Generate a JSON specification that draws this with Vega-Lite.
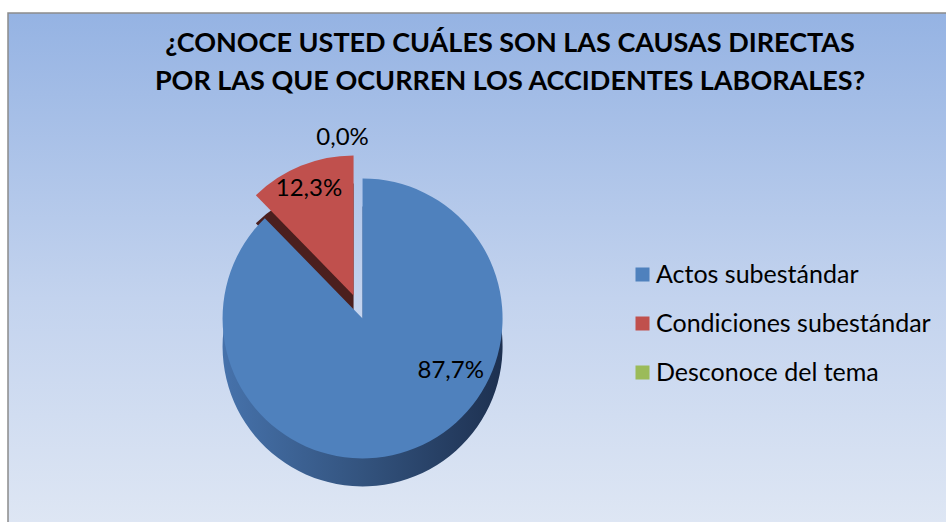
{
  "$schema": "https://vega.github.io/schema/vega-lite/v6.json",
  "autosize": {"type": "none"},
  "width": 938,
  "height": 509,
  "padding": {"left": 8, "top": 13, "right": 0, "bottom": 0},
  "background": "white",
  "title": {
    "text": ["¿CONOCE USTED CUÁLES SON LAS CAUSAS DIRECTAS", "POR LAS QUE OCURREN LOS ACCIDENTES LABORALES?"],
    "font": "Lato",
    "fontSize": 27,
    "fontWeight": "bold",
    "color": "black",
    "anchor": "middle",
    "offset": -84,
    "dx": 33,
    "lineHeight": 38
  },
  "config": {"view": {"stroke": null}},
  "data": {
    "values": [
      {"cat": "Actos subestándar", "value": 87.7, "label": "87,7%"},
      {"cat": "Condiciones subestándar", "value": 12.3, "label": "12,3%"},
      {"cat": "Desconoce del tema", "value": 0, "label": "0,0%"}
    ]
  },
  "transform": [
    {"stack": "value", "groupby": [], "sort": [{"field": "cat", "order": "ascending"}], "as": ["v0", "v1"]}
  ],
  "layer": [
    {
      "data": {"values": [{"bg": 1}]},
      "mark": {"type": "rect", "x": 0, "y": 0, "x2": {"expr": "width+10"}, "y2": {"expr": "height+10"},
        "fill": {"gradient": "linear", "x1": 0, "y1": 0, "x2": 0, "y2": 1,
          "stops": [{"offset": 0, "color": "#95b3e3"}, {"offset": 0.55, "color": "#c3d3ee"}, {"offset": 1, "color": "#dfe7f4"}]},
        "stroke": "#8c8c8c", "strokeWidth": 1.5},
      "encoding": {}
    },
    {
      "transform": [{"filter": "datum.cat === 'Condiciones subestándar'"}],
      "mark": {"type": "arc", "radius": 140, "x": {"expr": "width*0.378"}, "y": {"expr": "height*0.6"}, "xOffset": -9, "yOffset": 5, "fill": "#4b1f1e"},
      "encoding": {
        "theta": {"field": "v0", "type": "quantitative", "scale": {"domain": [0, 100]}},
        "theta2": {"field": "v1"}
      }
    },
    {
      "transform": [{"filter": "datum.cat === 'Condiciones subestándar'"}],
      "mark": {"type": "arc", "radius": 140, "x": {"expr": "width*0.378"}, "y": {"expr": "height*0.6"}, "xOffset": -9, "yOffset": -23},
      "encoding": {
        "theta": {"field": "v0", "type": "quantitative", "scale": {"domain": [0, 100]}},
        "theta2": {"field": "v1"},
        "color": {"field": "cat", "type": "nominal",
          "scale": {"domain": ["Actos subestándar", "Condiciones subestándar", "Desconoce del tema"], "range": ["#4f81bd", "#c0504d", "#9bbb59"]},
          "legend": {"orient": "none", "legendX": 622, "legendY": 249, "title": null, "symbolType": "square", "symbolSize": 196, "symbolStrokeWidth": 0, "symbolOpacity": 1, "labelFont": "Lato", "labelFontSize": 25, "labelColor": "black", "rowPadding": 23, "labelOffset": 1, "labelLimit": 400}
        }
      }
    },
    {
      "transform": [{"filter": "datum.cat === 'Actos subestándar'"}],
      "mark": {"type": "arc", "radius": 140, "x": {"expr": "width*0.378"}, "y": {"expr": "height*0.6"}, "yOffset": 28,
        "fill": {"gradient": "linear", "x1": 0, "y1": 0, "x2": 1, "y2": 0,
          "stops": [{"offset": 0, "color": "#4672ab"}, {"offset": 0.5, "color": "#33537e"}, {"offset": 1, "color": "#1d3050"}]}},
      "encoding": {
        "theta": {"field": "v0", "type": "quantitative", "scale": {"domain": [0, 100]}},
        "theta2": {"field": "v1"}
      }
    },
    {
      "transform": [{"filter": "datum.cat === 'Actos subestándar'"}],
      "mark": {"type": "arc", "radius": 140, "x": {"expr": "width*0.378"}, "y": {"expr": "height*0.6"}},
      "encoding": {
        "theta": {"field": "v0", "type": "quantitative", "scale": {"domain": [0, 100]}},
        "theta2": {"field": "v1"},
        "color": {"field": "cat", "type": "nominal",
          "scale": {"domain": ["Actos subestándar", "Condiciones subestándar", "Desconoce del tema"], "range": ["#4f81bd", "#c0504d", "#9bbb59"]},
          "legend": {"orient": "none", "legendX": 622, "legendY": 249, "title": null, "symbolType": "square", "symbolSize": 196, "symbolStrokeWidth": 0, "symbolOpacity": 1, "labelFont": "Lato", "labelFontSize": 25, "labelColor": "black", "rowPadding": 23, "labelOffset": 1, "labelLimit": 400}
        }
      }
    },
    {
      "mark": {"type": "text", "font": "Lato", "fontSize": 24, "color": "black", "radius": 80, "x": {"expr": "width*0.378"}, "y": {"expr": "height*0.6"}, "xOffset": 58, "yOffset": -22},
      "encoding": {
        "theta": {"field": "value", "type": "quantitative", "stack": true, "scale": {"domain": [0, 100]}},
        "order": {"field": "cat"},
        "text": {"condition": {"test": "datum.cat === 'Actos subestándar'", "field": "label"}, "value": ""}
      }
    },
    {
      "mark": {"type": "text", "font": "Lato", "fontSize": 24, "color": "black", "radius": 105, "x": {"expr": "width*0.378"}, "y": {"expr": "height*0.6"}, "xOffset": -14, "yOffset": -32},
      "encoding": {
        "theta": {"field": "value", "type": "quantitative", "stack": true, "scale": {"domain": [0, 100]}},
        "order": {"field": "cat"},
        "text": {"condition": {"test": "datum.cat === 'Condiciones subestándar'", "field": "label"}, "value": ""}
      }
    },
    {
      "mark": {"type": "text", "font": "Lato", "fontSize": 24, "color": "black", "radius": 180, "x": {"expr": "width*0.378"}, "y": {"expr": "height*0.6"}, "xOffset": -20},
      "encoding": {
        "theta": {"field": "value", "type": "quantitative", "stack": true, "scale": {"domain": [0, 100]}},
        "order": {"field": "cat"},
        "text": {"condition": {"test": "datum.cat === 'Desconoce del tema'", "field": "label"}, "value": ""}
      }
    }
  ]
}
